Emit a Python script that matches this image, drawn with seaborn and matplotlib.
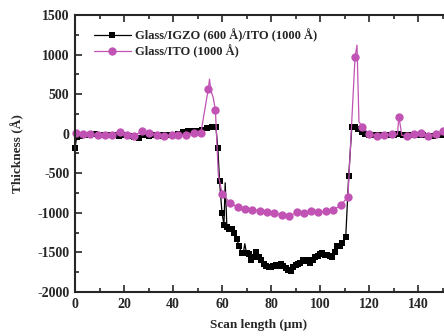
import numpy as np
import seaborn as sns
import matplotlib
matplotlib.use('Agg')
import matplotlib.pyplot as plt
from matplotlib.ticker import MultipleLocator

# Glass/IGZO (600 A)/ITO (1000 A) profile
igzo_x = [0, 0.7, 2, 4, 6, 8, 10, 12, 14, 16, 18, 20, 22, 24, 26, 28, 30, 32, 34, 36,
          38, 40, 42, 44, 46, 48, 50, 52, 54, 56, 57.5, 58.3, 59, 60, 60.8, 61.3, 62, 63,
          64, 65, 66, 67, 68, 68.7, 69.3, 70, 71, 72, 73, 74, 75, 76, 77, 78, 79, 80, 81,
          82, 83, 84, 85, 86, 87, 88, 89, 90, 91, 92, 93, 94, 95, 96, 97, 98, 99, 100, 101,
          102, 103, 104, 105, 106, 107, 108, 109, 110.5, 111.7, 113, 114.2, 115.5, 117,
          118.5, 120, 122, 124, 126, 128, 130, 132, 134, 136, 138, 140, 142, 144, 146, 148, 150]
igzo_y = [-180, -40, -30, -10, -20, 0, -10, -20, -10, -20, -30, -20, -30, -40, -50, -20, -30, -20, -30, -20,
          -10, -20, 0, 20, 30, 40, 40, 50, 70, 80, 90, -180, -600, -1000, -1150, -620, -1180, -1200,
          -1210, -1250, -1330, -1420, -1510, -1510, -1390, -1510, -1520, -1600, -1560, -1500, -1560, -1600, -1640, -1670, -1690, -1690, -1670,
          -1660, -1670, -1650, -1670, -1700, -1720, -1730, -1690, -1660, -1650, -1630, -1600, -1610, -1590, -1630, -1600, -1560, -1540, -1520, -1510,
          -1530, -1530, -1540, -1560, -1500, -1420, -1420, -1380, -1310, -540, 90, 80, 60, 20,
          0, -10, -20, -20, -20, -10, -10, 0, -20, -20, -20, -10, -20, -30, -30, -20, -20]
igzo_spikes = [35, 44]

# Glass/ITO (1000 A) profile
ito_x = [0.4, 3.3, 6.1, 9.4, 12.2, 15.1, 18.4, 21.2, 24.1, 27.3, 30.2, 33.5, 36.3, 39.6, 42, 45.3,
         48.6, 51.4, 54.4, 54.9, 55.5, 56.4, 57.3, 58.5, 60.1, 63.3, 66.4, 69.4, 72.4, 75.5, 78.5,
         81.3, 84.4, 87.3, 90.5, 93.5, 96.3, 99.3, 102.4, 105.4, 108.6, 111.4, 114.3, 115.1, 115.9,
         117.3, 120.1, 123.1, 126.3, 129.3, 131.6, 132.2, 133.4, 135.4, 138.4, 141.4, 144.2, 147.3, 150.1]
ito_y = [10, 0, -5, -15, -15, -15, 20, -20, -25, 30, 5, -20, -30, -15, -15, -15,
         5, 15, 565, 690, 540, 460, 300, -520, -762, -872, -930, -952, -964, -973, -986,
         -999, -1028, -1040, -994, -999, -973, -994, -977, -964, -901, -796, 966, 1120, 150,
         88, -4, -29, -20, -8, -10, 215, -20, -29, -4, 5, -25, -8, 34]
ito_unmarked = [19, 20, 21, 23, 43, 44, 50, 52]

igzo_marks = [i for i in range(len(igzo_x)) if i not in igzo_spikes]
ito_marks = [i for i in range(len(ito_x)) if i not in ito_unmarked]

sns.set_style('ticks')
plt.rcParams['font.family'] = ['Liberation Serif', 'DejaVu Serif']
plt.rcParams['font.weight'] = 'bold'
plt.rcParams['axes.unicode_minus'] = False

fig = plt.figure(figsize=(4.44, 3.36), dpi=100)
ax = fig.add_axes([75 / 444, 1 - 292 / 336, 367.5 / 444, 277 / 336])

sns.lineplot(x=igzo_x, y=igzo_y, ax=ax, color='black', lw=0.9, marker='s', ms=5,
             markeredgewidth=0, markevery=igzo_marks, sort=False,
             label='Glass/IGZO (600 Å)/ITO (1000 Å)', clip_on=False)
sns.lineplot(x=ito_x, y=ito_y, ax=ax, color='#c053b3', lw=0.9, marker='o', ms=6,
             markeredgewidth=0, markevery=ito_marks, sort=False,
             label='Glass/ITO (1000 Å)', clip_on=False)

ax.set_xlim(0, 150)
ax.set_ylim(-2000, 1500)
ax.xaxis.set_major_locator(MultipleLocator(20))
ax.xaxis.set_minor_locator(MultipleLocator(10))
ax.yaxis.set_major_locator(MultipleLocator(500))
ax.yaxis.set_minor_locator(MultipleLocator(250))
ax.tick_params(which='both', direction='in', top=True, right=False, width=1.2,
               labelsize=10, pad=4)
ax.tick_params(which='major', length=5)
ax.tick_params(which='minor', length=3)
for lab in ax.get_xticklabels() + ax.get_yticklabels():
    lab.set_fontweight('bold')
for side in ['left', 'bottom', 'top']:
    ax.spines[side].set_linewidth(1.5)
ax.spines['right'].set_visible(False)

ax.set_xlabel('Scan length (μm)', fontsize=9.5, fontweight='bold', labelpad=6)
ax.set_ylabel('Thickness (Å)', fontsize=9.5, fontweight='bold', labelpad=9)

ax.legend(loc='upper left', bbox_to_anchor=(0.02, 0.99), frameon=False,
          handlelength=3, handletextpad=0.3, labelspacing=0.2,
          prop={'weight': 'bold', 'size': 9})

fig.savefig('out.png', dpi=100)
